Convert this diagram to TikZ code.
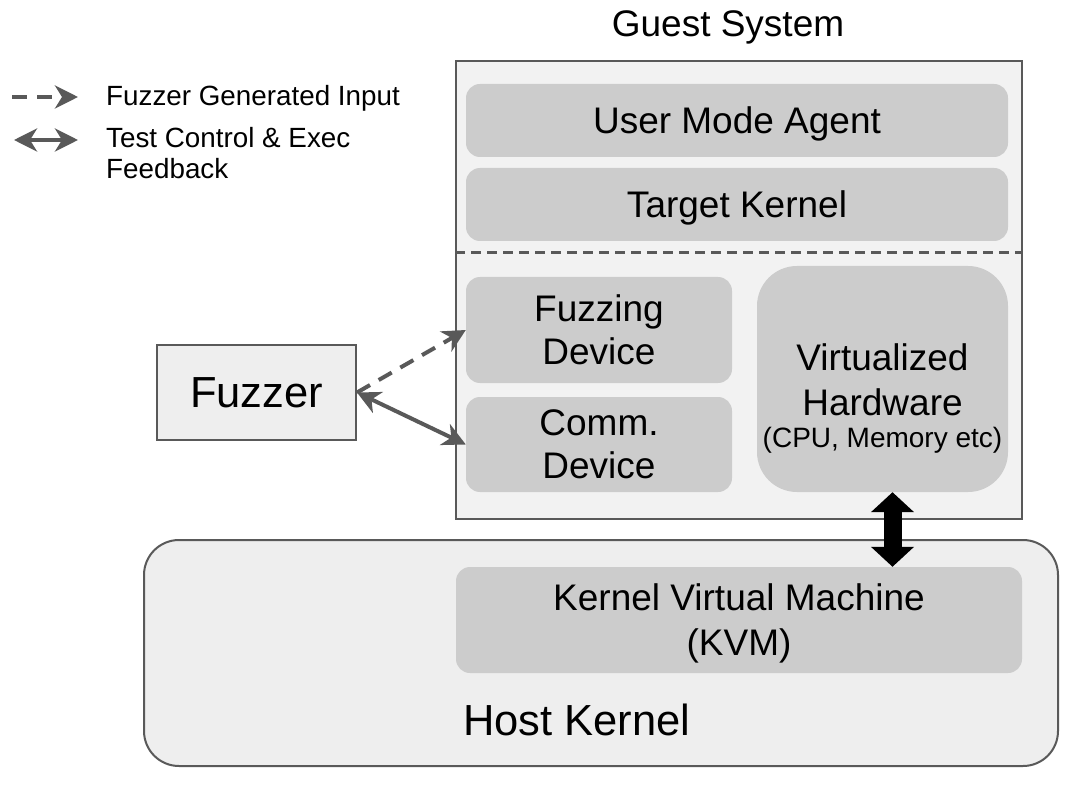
\documentclass[tikz,border=0pt]{standalone}
\usepackage{fontspec}
\setmainfont{Liberation Sans}
\usepackage{tikz}
\usepackage{xcolor}
\usetikzlibrary{arrows.meta}

\definecolor{boxgray}{HTML}{CCCCCC}
\definecolor{panelgray}{HTML}{F2F2F2}
\definecolor{hostgray}{HTML}{EEEEEE}
\definecolor{edgegray}{HTML}{595959}

\tikzset{
  panel/.style={rectangle, draw=edgegray, line width=2pt, fill=panelgray, inner sep=0pt},
  layer/.style={rectangle, rounded corners=14pt, fill=boxgray, inner sep=0pt, text depth=0pt,
    align=center, font=\fontsize{37}{43}\selectfont},
  bigtext/.style={font=\fontsize{43.5}{50}\selectfont},
  legendtext/.style={font=\fontsize{27.8}{31}\selectfont, align=left, anchor=west, inner sep=0pt, text depth=0pt},
  fuzzin/.style={draw=edgegray, line width=4pt, dash pattern=on 15pt off 10pt, -{Stealth[length=23pt,width=23pt,inset=7pt]}},
  ctrl/.style={draw=edgegray, line width=4pt, {Stealth[length=23pt,width=23pt,inset=7pt]}-{Stealth[length=23pt,width=23pt,inset=7pt]}},
}

\begin{document}
\begin{tikzpicture}[x=1pt, y=-1pt]
\useasboundingbox[fill=white] (0,0) rectangle (1068,794);

% legend
\coordinate (lgdA) at (12,97);
\coordinate (lgdB) at (78,97);
\coordinate (lgcA) at (14,140);
\coordinate (lgcB) at (78,140);
\draw[fuzzin] (lgdA) -- (lgdB);
\draw[ctrl] (lgcA) -- (lgcB);
\node[legendtext] (lgdT) at (106,95) {Fuzzer Generated Input};
\node[legendtext] (lgcT) at (106,153) {Test Control \& Exec\\Feedback};

% host kernel
\node[panel, rounded corners=35pt, fill=hostgray, minimum width=914pt, minimum height=226pt] (host) at (601,653) {};
\node[layer, font=\fontsize{37}{45}\selectfont, minimum width=566pt, minimum height=106pt] (kvm) at (739,620) {Kernel Virtual Machine\\(KVM)};
\node[bigtext, anchor=west, inner sep=0pt] (hostT) at (463,720) {Host Kernel};

% guest system
\node[font=\fontsize{37}{43}\selectfont, text depth=0pt] (guestT) at (728,24) {Guest System};
\node[panel, minimum width=566pt, minimum height=458pt] (guest) at (739,290) {};
\node[layer, minimum width=542pt, minimum height=73pt] (uma) at (737,120.5) {User Mode Agent};
\node[layer, minimum width=542pt, minimum height=73pt] (tk) at (737,204.5) {Target Kernel};
\draw[edgegray, line width=3pt, dash pattern=on 10pt off 6pt] (guest.west |- 0,253) -- (guest.east |- 0,253);
\node[layer, minimum width=266pt, minimum height=106pt] (fd) at (599,330) {Fuzzing\\Device};
\node[layer, minimum width=266pt, minimum height=95pt] (cd) at (599,444.5) {Comm.\\Device};
\node[layer, rounded corners=40pt, minimum width=251pt, minimum height=226pt] (vh) at (882.5,379) {};
\node[align=center, inner sep=0pt, font=\fontsize{37}{45}\selectfont] (vhT) at (882.5,398)
  {Virtualized\\Hardware\\[-13pt]{\fontsize{28}{30}\selectfont(CPU, Memory etc)}};

% fuzzer
\node[panel, fill=hostgray, minimum width=199pt, minimum height=95pt, bigtext] (fuzzer) at (256.5,392.5) {Fuzzer};

% connectors
\draw[fuzzin] (fuzzer.east) -- (fd.west);
\draw[ctrl] (fuzzer.east) -- (cd.west);
\draw[black, line width=18pt, {Triangle[length=20pt,width=42pt]}-{Triangle[length=20pt,width=42pt]}]
  ([xshift=10pt]vh.south) -- ([xshift=10pt]vh.south |- kvm.north);
\end{tikzpicture}
\end{document}
